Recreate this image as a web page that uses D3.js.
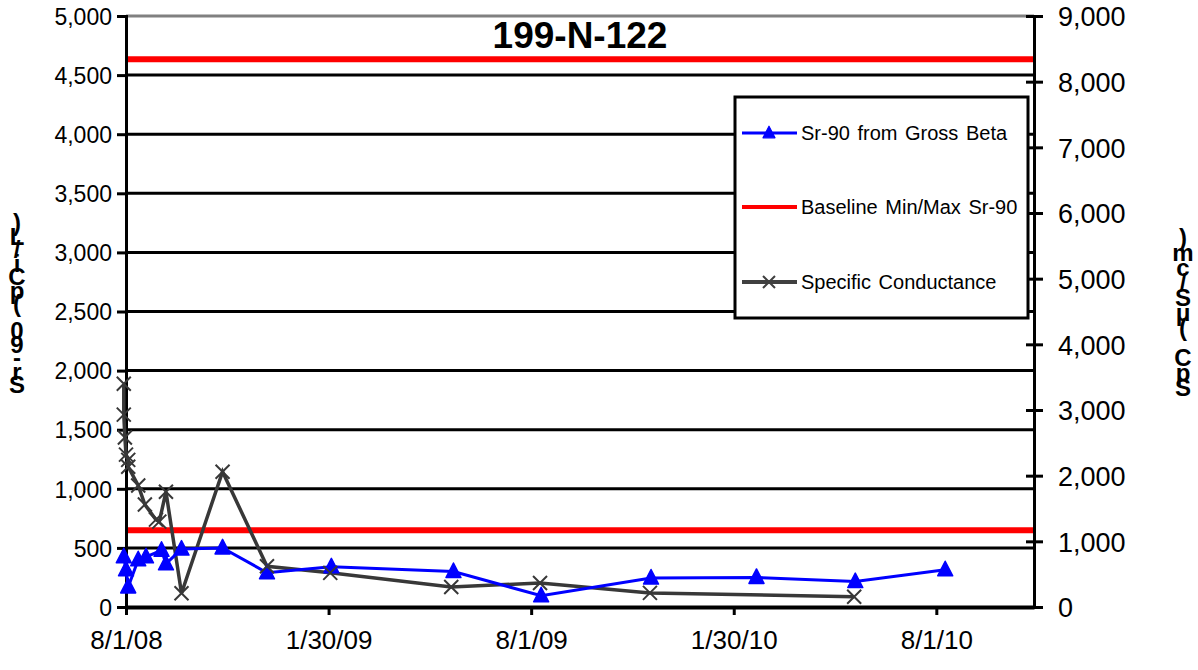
<!DOCTYPE html>
<html>
<head>
<meta charset="utf-8">
<script src="https://cdn.jsdelivr.net/npm/d3@7"></script>
<style>
  body { margin: 0; background: #fff; }
  svg { display: block; }
  text { font-family: "Liberation Sans", Arial, sans-serif; }
</style>
</head>
<body>
<svg id="chart" width="1198" height="670"></svg>
<script>
// Well 199-N-122: Sr-90 (left axis) and specific conductance (right axis)
const title = "199-N-122";

const sr90Dates = ["7/30/08","8/1/08","8/3/08","8/12/08","8/19/08","9/2/08","9/6/08","9/20/08","10/27/08","12/6/08","2/2/09","5/23/09","8/10/09","11/17/09","2/20/10","5/20/10","8/9/10"];
const sr90Values = [425, 315, 170, 400, 425, 480, 365, 490, 500, 290, 340, 300, 95, 245, 250, 215, 315];

const condDates = ["7/30/08","7/30/08","7/31/08","8/1/08","8/3/08","8/3/08","8/12/08","8/18/08","8/28/08","8/31/08","9/6/08","9/20/08","10/27/08","12/6/08","2/1/09","5/21/09","8/9/09","11/16/09","5/19/10"];
const condValues = [3400, 2930, 2580, 2320, 2240, 2135, 1850, 1560, 1330, 1300, 1755, 210, 2060, 620, 520, 305, 365, 215, 155];

const baselineMinMax = [650, 4635];

const xStart = "8/1/08";
const xSpanDays = 818;
const xTickDays = [0, 182.5, 365, 547.5, 730];
const xTickLabels = ["8/1/08", "1/30/09", "8/1/09", "1/30/10", "8/1/10"];
const leftTicks = [0, 500, 1000, 1500, 2000, 2500, 3000, 3500, 4000, 4500, 5000];
const rightTicks = [0, 1000, 2000, 3000, 4000, 5000, 6000, 7000, 8000, 9000];

const leftTitle = "Sr-90 (pCi/L)";
const rightTitle = "SpC (μS/cm)";
const legendLabels = ["Sr-90 from Gross Beta", "Baseline Min/Max Sr-90", "Specific Conductance"];

// ---- layout ----
const plot = { left: 126, right: 1034, top: 16, bottom: 607 };
const DAY = 864e5;
const parse = d3.utcParse("%m/%d/%y");
const origin = parse(xStart);

const svg = d3.select("#chart");
const fmt = d3.format(",");

const x = d3.scaleUtc()
  .domain([origin, new Date(+origin + xSpanDays * DAY)])
  .range([plot.left, plot.right]);
const yL = d3.scaleLinear().domain([0, 5000]).range([plot.bottom, plot.top]);
const yR = d3.scaleLinear().domain([0, 9000]).range([plot.bottom, plot.top]);

const sr90 = sr90Dates.map((d, i) => ({ date: parse(d), v: sr90Values[i] }));
const cond = condDates.map((d, i) => ({ date: parse(d), v: condValues[i] }));

const triPath = "M0,-8.5L7.5,6L-7.5,6Z";

// gridlines (left axis scale)
svg.append("g").selectAll("line")
  .data(leftTicks.filter(t => t > 0))
  .join("line")
  .attr("x1", plot.left).attr("x2", plot.right)
  .attr("y1", d => yL(d)).attr("y2", d => yL(d))
  .attr("stroke", d => d === 5000 ? "#808080" : "#000")
  .attr("stroke-width", 3);

// baseline min/max lines
svg.append("g").selectAll("line")
  .data(baselineMinMax)
  .join("line")
  .attr("x1", plot.left).attr("x2", plot.right)
  .attr("y1", d => yL(d)).attr("y2", d => yL(d))
  .attr("stroke", "#ff0000")
  .attr("stroke-width", 6);

// left axis
const leftAxis = d3.axisLeft(yL).tickValues(leftTicks).tickFormat(fmt).tickSize(9).tickPadding(5);
const gL = svg.append("g").attr("transform", `translate(${plot.left},0)`).call(leftAxis);
gL.select(".domain").attr("stroke", "#000").attr("stroke-width", 3);
gL.selectAll(".tick line").attr("stroke", "#000").attr("stroke-width", 3);
gL.selectAll(".tick text").attr("font-size", 23).attr("fill", "#000").attr("dy", "0.36em");

// right axis (ticks cross the axis line)
const rightAxis = d3.axisRight(yR).tickValues(rightTicks).tickFormat(fmt).tickSize(9).tickPadding(15);
const gR = svg.append("g").attr("transform", `translate(${plot.right},0)`).call(rightAxis);
gR.select(".domain").attr("stroke", "#000").attr("stroke-width", 3);
gR.selectAll(".tick line").attr("x1", -8).attr("stroke", "#000").attr("stroke-width", 3);
gR.selectAll(".tick text").attr("font-size", 27).attr("fill", "#000").attr("dy", "0.36em");

// bottom axis
const bottomAxis = d3.axisBottom(x)
  .tickValues(xTickDays.map(d => new Date(+origin + d * DAY)))
  .tickFormat((d, i) => xTickLabels[i])
  .tickSize(8).tickPadding(16).tickSizeOuter(0);
const gB = svg.append("g").attr("transform", `translate(0,${plot.bottom})`).call(bottomAxis);
gB.select(".domain").attr("stroke", "#000").attr("stroke-width", 4);
gB.selectAll(".tick line").attr("stroke", "#000").attr("stroke-width", 3);
gB.selectAll(".tick text").attr("font-size", 26).attr("fill", "#000");

// title
svg.append("text")
  .attr("x", 580).attr("y", 48)
  .attr("text-anchor", "middle")
  .attr("font-size", 37).attr("font-weight", "bold")
  .text(title);

// axis titles, drawn as stacked upright characters
function stackedTitle(str, cx, bottomBaseline, step) {
  const chars = Array.from(str).reverse();
  svg.append("g").selectAll("text")
    .data(chars)
    .join("text")
    .attr("x", cx)
    .attr("y", (d, i) => bottomBaseline - (chars.length - 1 - i) * step)
    .attr("text-anchor", "middle")
    .attr("font-size", 24).attr("font-weight", "bold")
    .text(d => d);
}
stackedTitle(leftTitle, 17, 393, 13.5);
stackedTitle(rightTitle, 1183, 396, 15);

// legend
const lg = svg.append("g");
lg.append("rect")
  .attr("x", 735).attr("y", 97).attr("width", 293).attr("height", 221)
  .attr("fill", "#fff").attr("stroke", "#000").attr("stroke-width", 3);
const rowsY = [133, 207, 282];
const legendStyles = [
  { color: "#0000ff", width: 3, marker: "tri" },
  { color: "#ff0000", width: 4, marker: null },
  { color: "#404040", width: 4, marker: "x" }
];
legendLabels.forEach((lab, i) => {
  const y = rowsY[i], st = legendStyles[i];
  lg.append("line").attr("x1", 742).attr("x2", 797).attr("y1", y).attr("y2", y)
    .attr("stroke", st.color).attr("stroke-width", st.width);
  if (st.marker === "tri") {
    lg.append("path").attr("d", triPath)
      .attr("transform", `translate(769,${y}) scale(0.8)`).attr("fill", st.color)
      .attr("stroke", st.color).attr("stroke-width", 1.5).attr("stroke-linejoin", "round");
  } else if (st.marker === "x") {
    lg.append("path").attr("d", "M-6,-6L6,6M-6,6L6,-6")
      .attr("transform", `translate(769,${y})`).attr("stroke", st.color).attr("stroke-width", 2);
  }
  lg.append("text").attr("x", 801).attr("y", y + 7)
    .attr("font-size", 20).attr("word-spacing", 2).attr("fill", "#000").text(lab);
});

// specific conductance series
svg.append("path")
  .datum(cond)
  .attr("fill", "none").attr("stroke", "#383838").attr("stroke-width", 3.5)
  .attr("d", d3.line().x(d => x(d.date)).y(d => yR(d.v)));

// Sr-90 series
svg.append("path")
  .datum(sr90)
  .attr("fill", "none").attr("stroke", "#0000ff").attr("stroke-width", 3)
  .attr("d", d3.line().x(d => x(d.date)).y(d => yL(d.v)));

svg.append("g").selectAll("path")
  .data(sr90)
  .join("path")
  .attr("d", triPath)
  .attr("transform", d => `translate(${x(d.date)},${yL(d.v)})`)
  .attr("fill", "#0000ff").attr("stroke", "#0000ff").attr("stroke-width", 1.5)
  .attr("stroke-linejoin", "round");

svg.append("g").selectAll("path")
  .data(cond)
  .join("path")
  .attr("d", "M-7,-7L7,7M-7,7L7,-7")
  .attr("transform", d => `translate(${x(d.date)},${yR(d.v)})`)
  .attr("stroke", "#383838").attr("stroke-width", 2).attr("fill", "none");
</script>
</body>
</html>
